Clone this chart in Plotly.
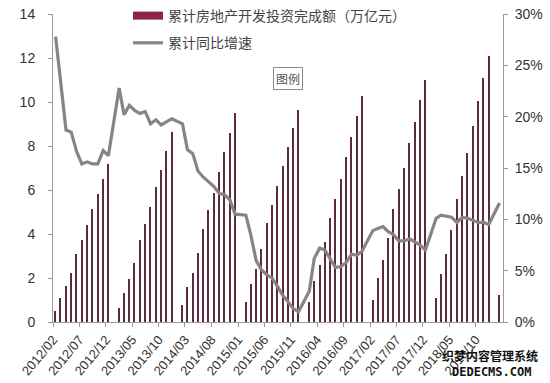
import plotly.graph_objects as go

# ---- data (Feb..Dec each year; China reports Jan-Feb combined, so January is empty) ----
years = [2012, 2013, 2014, 2015, 2016, 2017, 2018]
invest_2012 = [0.52, 1.08, 1.62, 2.22, 3.08, 3.72, 4.40, 5.15, 5.82, 6.50, 7.18]
invest_2013 = [0.62, 1.32, 1.97, 2.68, 3.72, 4.46, 5.24, 6.15, 6.90, 7.78, 8.62]
invest_2014 = [0.78, 1.58, 2.23, 3.14, 4.25, 5.10, 5.88, 6.80, 7.72, 8.60, 9.48]
invest_2015 = [0.90, 1.75, 2.41, 3.30, 4.48, 5.33, 6.19, 7.10, 7.97, 8.80, 9.62]
invest_2016 = [0.91, 1.85, 2.60, 3.62, 4.73, 5.57, 6.50, 7.48, 8.43, 9.38, 10.28]
invest_2017 = [1.00, 2.00, 2.82, 3.80, 5.12, 6.04, 7.00, 8.14, 9.08, 10.08, 11.00]
invest_2018 = [1.10, 2.18, 3.10, 4.16, 5.58, 6.64, 7.70, 8.90, 10.04, 11.07, 12.08]
invest_2019_feb = 1.21

growth_2012 = [27.8, 23.5, 18.7, 18.5, 16.6, 15.4, 15.6, 15.4, 15.4, 16.7, 16.2]
growth_2013 = [22.8, 20.2, 21.1, 20.6, 20.3, 20.5, 19.3, 19.7, 19.2, 19.5, 19.8]
growth_2014 = [19.3, 16.8, 16.4, 14.7, 14.1, 13.7, 13.2, 12.5, 12.4, 11.9, 10.5]
growth_2015 = [10.4, 8.5, 6.0, 5.1, 4.6, 4.3, 3.5, 2.6, 2.0, 1.3, 1.0]
growth_2016 = [3.0, 6.2, 7.2, 7.0, 6.1, 5.3, 5.4, 5.8, 6.6, 6.5, 6.9]
growth_2017 = [8.9, 9.1, 9.3, 8.8, 8.5, 7.9, 7.9, 8.1, 7.8, 7.5, 7.0]
growth_2018 = [10.1, 10.4, 10.3, 10.2, 9.7, 10.2, 10.1, 9.9, 9.7, 9.7, 9.5]
growth_2019_feb = 11.6

tick_labels = ["2012/02", "2012/07", "2012/12", "2013/05", "2013/10", "2014/03",
               "2014/08", "2015/01", "2015/06", "2015/11", "2016/04", "2016/09",
               "2017/02", "2017/07", "2017/12", "2018/05", "2018/10"]
right_ticks = [0, 5, 10, 15, 20, 25, 30]
right_tick_labels = ["0%", "5%", "10%", "15%", "20%", "25%", "30%"]

bar_name = "累计房地产开发投资完成额（万亿元）"
line_name = "累计同比增速"

# ---- assemble monthly series ----
invest_by_year = [invest_2012, invest_2013, invest_2014, invest_2015,
                  invest_2016, invest_2017, invest_2018]
growth_by_year = [growth_2012, growth_2013, growth_2014, growth_2015,
                  growth_2016, growth_2017, growth_2018]

dates, invest, growth = [], [], []
for i, y in enumerate(years):
    if i > 0:
        dates.append(f"{y}-01-15")
        invest.append(None)
        growth.append(None)
    for k in range(11):
        dates.append(f"{y}-{k + 2:02d}-15")
        invest.append(invest_by_year[i][k])
        growth.append(growth_by_year[i][k])
dates.append("2019-01-15"); invest.append(None); growth.append(None)
dates.append("2019-02-15"); invest.append(invest_2019_feb); growth.append(growth_2019_feb)

tick_vals = [lab.replace("/", "-") + "-01" for lab in tick_labels]

FONT = "Liberation Sans, Arial, sans-serif"
CJK = "Noto Sans CJK SC"
AXIS = "#9a9a9a"

# layout geometry (pixels)
H_PLOT = 322.0            # paper height (top margin 0, bottom margin 61)
TOP = 14.0                # pixel y of top of the axes
def py(pix):              # pixel-from-top -> paper y
    return 1 - pix / H_PLOT
def px(pix):              # pixel-from-left -> paper x
    return (pix - 53) / 450.0

fig = go.Figure()
fig.add_trace(go.Bar(
    x=dates, y=invest, name=bar_name, yaxis="y",
    marker=dict(color="#5e2a42", line=dict(width=0)),
    width=6.5e8, showlegend=False,
))
fig.add_trace(go.Scatter(
    x=dates, y=growth, name=line_name, yaxis="y2", mode="lines",
    line=dict(color="#858585", width=3.2), connectgaps=True, showlegend=False,
))
# legend entries (wide swatches as in the reference)
fig.add_trace(go.Scatter(x=[None], y=[None], name=bar_name, mode="lines",
                         line=dict(color="#8a2545", width=8), legendgroup="a"))
fig.add_trace(go.Scatter(x=[None], y=[None], name=line_name, mode="lines", yaxis="y2",
                         line=dict(color="#858585", width=3.2), legendgroup="b"))

fig.update_layout(
    width=550, height=383, autosize=False,
    margin=dict(l=53, r=47, t=0, b=61, autoexpand=False),
    paper_bgcolor="white", plot_bgcolor="white",
    font=dict(family=FONT, size=13, color="#333"),
    showlegend=True,
    legend=dict(x=px(128), y=1.0, xanchor="left", yanchor="top",
                bgcolor="rgba(0,0,0,0)", font=dict(family=CJK, size=14, color="#444"),
                tracegroupgap=6, itemwidth=30),
    xaxis=dict(type="date", range=["2012-01-31", "2019-03-07"], automargin=False,
               tickvals=tick_vals, ticktext=tick_labels, tickangle=-50,
               tickfont=dict(size=13, color="#333"),
               showline=True, linecolor=AXIS, linewidth=1,
               ticks="outside", ticklen=4, tickcolor=AXIS, showgrid=False),
    yaxis=dict(range=[0, 14], dtick=2, domain=[0, (H_PLOT - TOP) / H_PLOT], automargin=False,
               showline=True, linecolor=AXIS, linewidth=1,
               ticks="outside", ticklen=4, tickcolor=AXIS, showgrid=False,
               zeroline=False, tickfont=dict(size=14, color="#333"),
               ticklabelstandoff=10),
    yaxis2=dict(range=[0, 30], tickvals=right_ticks, ticktext=right_tick_labels, automargin=False,
                overlaying="y", side="right", showline=True, linecolor=AXIS, linewidth=1,
                ticks="outside", ticklen=4, tickcolor=AXIS, showgrid=False,
                zeroline=False, tickfont=dict(size=14, color="#333"),
                ticklabelstandoff=4),
    bargap=0,
)

# "图例" box
fig.add_annotation(xref="paper", yref="paper", x=px(288), y=py(78),
                   xanchor="center", yanchor="middle",
                   text="图例", showarrow=False, font=dict(family=CJK, size=12, color="#555"),
                   bgcolor="white", bordercolor="#8a8a8a", borderwidth=1, borderpad=2)

# watermark text bottom right
fig.add_annotation(xref="paper", yref="paper", x=px(490), y=py(355),
                   xanchor="center", yanchor="middle",
                   text="<b>织梦内容管理系统</b>", showarrow=False,
                   font=dict(family=CJK, size=12, color="#111"), borderpad=0)
fig.add_annotation(xref="paper", yref="paper", x=px(491), y=py(372),
                   xanchor="center", yanchor="middle",
                   text="<b>DEDECMS.COM</b>", showarrow=False,
                   font=dict(family="DejaVu Sans Mono", size=12, color="#111"), borderpad=0)

fig.write_html("out.html",
               config={"displayModeBar": False},
               post_script="document.body.style.margin='0';document.body.style.padding='0';")
